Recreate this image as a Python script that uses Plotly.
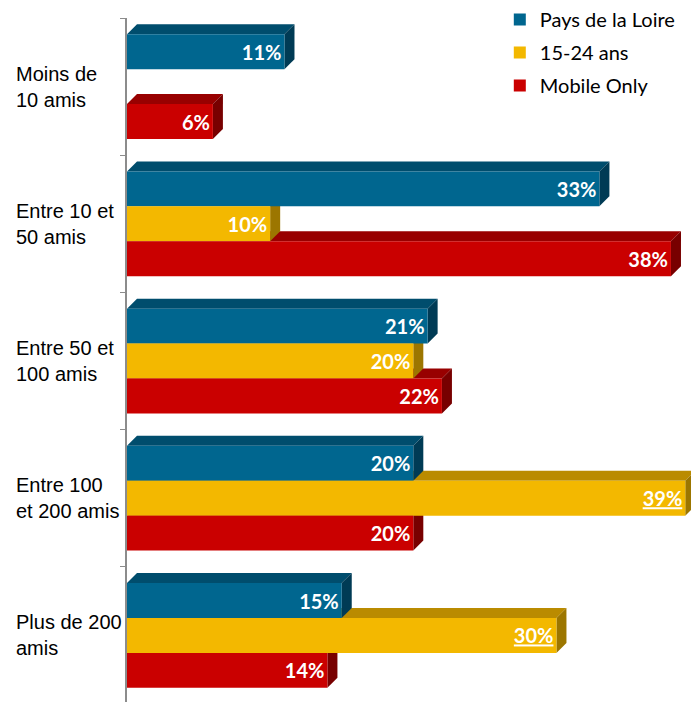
import plotly.graph_objects as go

# Tranches de nombre d'amis (de haut en bas)
tranches = [
    "Moins de<br>10 amis",
    "Entre 10 et<br>50 amis",
    "Entre 50 et<br>100 amis",
    "Entre 100<br>et 200 amis",
    "Plus de 200<br>amis",
]

# Parts en % par population
pays_de_la_loire = [11, 33, 21, 20, 15]
jeunes_15_24 = [None, 10, 20, 39, 30]
mobile_only = [6, 38, 22, 20, 14]

# Écarts significatifs (étiquette soulignée)
jeunes_souligne = [False, False, False, True, True]

series = [
    dict(name="Pays de la Loire", values=pays_de_la_loire, flags=[False] * 5,
         front="#00668F", top="#004D6D", side="#003B55"),
    dict(name="15-24 ans", values=jeunes_15_24, flags=jeunes_souligne,
         front="#F3B800", top="#BA8B00", side="#9C7600"),
    dict(name="Mobile Only", values=mobile_only, flags=[False] * 5,
         front="#CA0000", top="#980000", side="#780000"),
]

# Geometry of the pseudo-3D bars (data units)
BAR_W = 0.2545          # height of one bar, in category units
DX = 0.70               # depth offset along the value axis
DY = 0.073              # depth offset along the category axis
X_MAX = 39.4
Y_RANGE = [4.485, -0.5]

fig = go.Figure()
shapes = []

# Depth faces: drawn back-to-front (bottom series first) below the bars
for k in reversed(range(len(series))):
    s = series[k]
    off = (k - 1) * BAR_W
    for i, v in enumerate(s["values"]):
        if v is None:
            continue
        yc = i + off
        y0, y1 = yc - BAR_W / 2, yc + BAR_W / 2
        top_path = (f"M 0,{y0} L {v},{y0} L {v + DX},{y0 - DY} "
                    f"L {DX},{y0 - DY} Z")
        side_path = (f"M {v},{y0} L {v + DX},{y0 - DY} L {v + DX},{y1 - DY} "
                     f"L {v},{y1} Z")
        shapes.append(dict(type="path", path=top_path, xref="x", yref="y",
                           fillcolor=s["top"], line=dict(width=0), layer="below"))
        shapes.append(dict(type="path", path=side_path, xref="x", yref="y",
                           fillcolor=s["side"], line=dict(width=0), layer="below"))

# Front faces with value labels
for k, s in enumerate(series):
    off = (k - 1) * BAR_W
    ys = [i + off for i in range(len(tranches))]
    texts = []
    for v, u in zip(s["values"], s["flags"]):
        if v is None:
            texts.append("")
        else:
            t = f"{v}%"
            texts.append(f"<u>{t}</u>" if u else t)
    fig.add_trace(go.Bar(
        x=s["values"], y=ys, orientation="h", width=BAR_W,
        name=s["name"], legendgroup=s["name"],
        marker=dict(color=s["front"], line=dict(width=0)),
        text=texts, textposition="inside", insidetextanchor="end",
        textangle=0, constraintext="none",
        textfont=dict(family="Lato, Carlito, sans-serif", size=20,
                      color="white", weight="bold"),
        hoverinfo="skip",
    ))

# Category labels on the left
annotations = []
for i, lab in enumerate(tranches):
    annotations.append(dict(
        x=-0.200, xref="paper", y=i, yref="y", text=lab, showarrow=False,
        xanchor="left", yanchor="middle", align="left",
        font=dict(family="Liberation Sans Narrow, Liberation Sans, Arial",
                  size=20, color="#000000"),
    ))

fig.update_layout(
    width=691, height=702,
    margin=dict(l=127, r=0, t=17, b=0),
    paper_bgcolor="white", plot_bgcolor="white",
    barmode="overlay",
    shapes=shapes,
    annotations=annotations,
    showlegend=True,
    legend=dict(
        x=0.661, y=1.027, xanchor="left", yanchor="top",
        bgcolor="rgba(0,0,0,0)", tracegroupgap=4,
        font=dict(family="Lato, Carlito, sans-serif", size=20, color="#000000"),
        itemwidth=30, traceorder="grouped",
    ),
    xaxis=dict(range=[0, X_MAX], visible=False, fixedrange=True),
    yaxis=dict(
        range=Y_RANGE, showgrid=False, zeroline=False,
        showline=True, linecolor="#8C8C8C", linewidth=2,
        tickmode="array", tickvals=[i - 0.5 for i in range(len(tranches) + 1)],
        ticktext=[""] * (len(tranches) + 1),
        ticks="outside", ticklen=5, tickwidth=1, tickcolor="#8C8C8C",
        fixedrange=True,
    ),
)

fig.write_html("out.html")
